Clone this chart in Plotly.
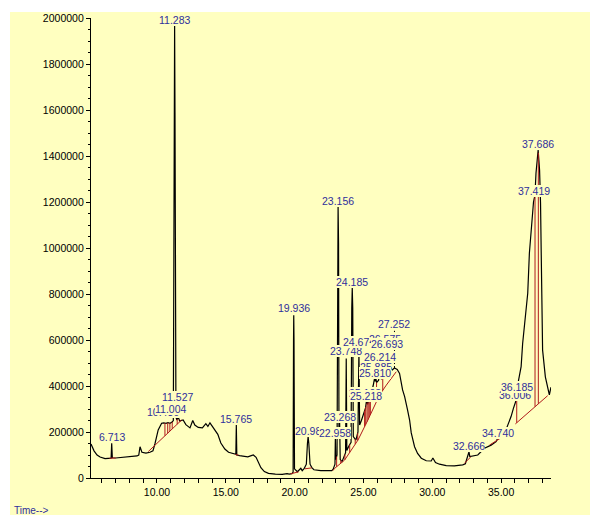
import numpy as np
import plotly.graph_objects as go

# ---------------- data ----------------
time_min = [5.21, 5.29, 5.43, 5.65, 5.87, 6.23, 6.59, 6.67, 6.713, 6.76, 7.0, 7.53, 8.04, 8.55, 8.68, 8.77, 8.91,
            9.2, 9.49, 9.71, 9.86, 10.09, 10.34, 10.5, 10.65, 10.8, 10.95, 11.1, 11.19, 11.21, 11.25, 11.283,
            11.31, 11.36, 11.38, 11.45, 11.527, 11.65, 11.9, 12.1, 12.4, 12.6, 12.75, 13.0, 13.3, 13.55, 13.7,
            13.85, 14.0, 14.2, 14.42, 14.64, 14.93, 15.2, 15.5, 15.73, 15.765, 15.8, 16.0, 16.3, 16.6, 16.85,
            17.0, 17.2, 17.35, 17.55, 17.8, 18.1, 18.6, 19.1, 19.45, 19.6, 19.8, 19.89, 19.92, 19.936, 19.955,
            19.99, 20.2, 20.45, 20.55, 20.7, 20.85, 20.93, 20.98, 21.03, 21.12, 21.25, 21.4, 21.9, 22.5, 22.7,
            22.8, 22.93, 22.958, 22.99, 23.08, 23.12, 23.156, 23.19, 23.22, 23.268, 23.31, 23.45, 23.6, 23.70,
            23.748, 23.79, 23.95, 24.10, 24.15, 24.185, 24.22, 24.26, 24.45, 24.60, 24.67, 24.72, 24.85, 25.0,
            25.15, 25.218, 25.3, 25.5, 25.7, 25.81, 25.86, 25.885, 25.95, 26.1, 26.214, 26.3, 26.5, 26.575,
            26.64, 26.693, 26.75, 27.0, 27.252, 27.45, 27.62, 27.84, 27.99, 28.2, 28.35, 28.47, 28.59, 28.71,
            28.93, 29.2, 29.56, 29.92, 30.04, 30.23, 30.52, 31.01, 31.6, 32.21, 32.4, 32.62, 32.666, 32.72,
            32.9, 33.3, 33.79, 34.27, 34.63, 34.74, 34.87, 35.24, 35.48, 35.72, 35.89, 36.006, 36.10, 36.185,
            36.32, 36.45, 36.56, 36.76, 36.93, 37.05, 37.17, 37.29, 37.35, 37.419, 37.47, 37.53, 37.61, 37.686,
            37.79, 37.86, 37.91, 37.97, 38.01, 38.21, 38.38, 38.5, 38.62]
abundance = [148000, 138000, 118000, 100000, 91000, 84000, 84000, 86000, 151000, 88000, 87000, 89000, 92000,
             96000, 100000, 136000, 112000, 108000, 112000, 118000, 150000, 209000, 238000, 240000, 238000,
             241000, 238000, 243000, 250000, 550000, 1590000, 1970000, 1590000, 550000, 265000, 252000, 268000,
             248000, 252000, 232000, 218000, 250000, 230000, 220000, 218000, 236000, 224000, 240000, 226000,
             212000, 190000, 152000, 126000, 112000, 106000, 103000, 230000, 100000, 97000, 93000, 92000, 97000,
             100000, 90000, 72000, 45000, 28000, 20000, 17000, 16000, 19000, 17000, 19000, 25000, 600000, 708000,
             600000, 40000, 27000, 42000, 32000, 42000, 60000, 150000, 180000, 150000, 60000, 45000, 36000,
             32000, 30000, 32000, 38000, 60000, 175000, 80000, 100000, 1020000, 1180000, 1020000, 200000, 240000,
             80000, 72000, 95000, 110000, 520000, 120000, 140000, 155000, 739000, 826000, 739000, 180000, 165000,
             200000, 555000, 230000, 250000, 280000, 305000, 335000, 320000, 360000, 400000, 435000, 420000,
             440000, 415000, 425000, 490000, 430000, 440000, 470000, 445000, 470000, 450000, 465000, 478000,
             472000, 455000, 383000, 354000, 296000, 252000, 196000, 165000, 136000, 107000, 86000, 75000, 74000,
             87000, 67000, 60000, 54000, 53000, 57000, 62000, 100000, 114000, 93000, 95000, 100000, 129000,
             143000, 158000, 172000, 175000, 194000, 230000, 267000, 303000, 330000, 340000, 400000, 440000,
             484000, 585000, 701000, 803000, 977000, 1078000, 1180000, 1200000, 1220000, 1250000, 1325000,
             1397000, 1426000, 1339000, 1194000, 978000, 760000, 556000, 440000, 383000, 361000, 395000]

# integration baselines (time, abundance) per peak group
baseline_groups = [
    [(6.55, 86000), (7.0, 87000)],
    [(9.37, 115000), (11.79, 252000)],
    [(15.70, 102000), (15.92, 99000)],
    [(19.70, 18000), (20.30, 27000)],
    [(20.75, 40000), (21.25, 44000)],
    [(22.78, 32000), (22.91, 42000), (23.63, 78000), (24.6, 165000), (25.32, 252000), (25.81, 313000),
     (26.17, 361000), (26.66, 404000), (27.38, 462000)],
    [(32.33, 64000), (32.8, 92000)],
    [(34.15, 143000), (34.92, 172000)],
    [(36.03, 235000), (38.38, 358000)],
]
# times of red drop / hatch lines
drop_times = [10.58, 10.78, 10.94, 11.11, 11.47, 11.67,
              23.05, 23.35, 23.65, 24.0, 24.4, 24.58, 25.08, 25.16, 25.26, 25.34, 25.42, 25.5, 25.95, 26.4,
              36.13, 37.46, 37.70]

# peak labels: text and label height (abundance units), drawn in this order
label_texts = ["6.713", "11.283", "10.436", "11.004", "11.527", "15.765", "19.936", "20.98", "22.958",
               "23.268", "23.156", "23.748", "24.185", "24.674", "26.575", "26.693", "27.252", "25.108",
               "25.218", "25.885", "26.214", "25.810", "32.666", "34.740", "36.006", "36.185", "37.419",
               "37.686"]
label_heights = [178000, 1991000, 287000, 300000, 351000, 255000, 740000, 204000, 197000,
                 267000, 1204000, 551000, 853000, 593000, 604000, 581000, 668000, 371000,
                 357000, 483000, 527000, 458000, 140000, 197000, 363000, 394000, 1248000,
                 1452000]
leader_peak = (27.252, 478000, 640000)   # time, apex, label bottom

x_ticks = [10, 15, 20, 25, 30, 35]
x_tick_text = ["10.00", "15.00", "20.00", "25.00", "30.00", "35.00"]

# ---------------- styling ----------------
BG = "#FFFFC0"
BLUE = "#2F2F9C"
RED = "#B01A1A"
FONT = "Liberation Sans, Arial, sans-serif"

# figure is placed by the page 8px from top/left
W, H = 590, 507
ML, MR, MT, MB = 83, 47, 10, 37
PW, PH = W - ML - MR, H - MT - MB

fig = go.Figure()

bx, by = [], []
for grp in baseline_groups:
    for t, v in grp:
        bx.append(t)
        by.append(v)
    bx.append(None)
    by.append(None)

sig_t = np.array(time_min, dtype=float)
sig_v = np.array(abundance, dtype=float)
dx, dy = [], []
for t in drop_times:
    for grp in baseline_groups:
        gt = [p[0] for p in grp]
        gv = [p[1] for p in grp]
        if gt[0] <= t <= gt[-1]:
            b = float(np.interp(t, gt, gv))
            s = float(np.interp(t, sig_t, sig_v))
            dx += [t, t, None]
            dy += [b, s, None]
            break

fig.add_trace(go.Scatter(x=time_min, y=abundance, mode="lines",
                         line=dict(color="black", width=1.2), hoverinfo="skip"))
fig.add_trace(go.Scatter(x=bx, y=by, mode="lines", line=dict(color=RED, width=1),
                         connectgaps=False, hoverinfo="skip"))
fig.add_trace(go.Scatter(x=dx, y=dy, mode="lines", line=dict(color=RED, width=1),
                         connectgaps=False, hoverinfo="skip"))
fig.add_trace(go.Scatter(x=[leader_peak[0], leader_peak[0]], y=[leader_peak[1], leader_peak[2]],
                         mode="lines", line=dict(color="black", width=1, dash="2px,2px"),
                         hoverinfo="skip"))

annotations = []
for txt, h in zip(label_texts, label_heights):
    annotations.append(dict(x=float(txt), y=h, xref="x", yref="y", text=txt, showarrow=False,
                            font=dict(family=FONT, size=10.5, color=BLUE), bgcolor=BG,
                            borderpad=0, borderwidth=0, xanchor="center", yanchor="middle"))

annotations.append(dict(x=(3.5 - ML) / PW, y=(MT + PH - 502) / PH, xref="paper", yref="paper",
                        text="Time-->", showarrow=False, xanchor="left", yanchor="middle",
                        font=dict(family=FONT, size=10, color=BLUE)))

shapes = [
    dict(type="rect", xref="paper", yref="paper", x0=-0.3, x1=1.3,
         y0=(MT + PH - 4) / PH, y1=1.3, fillcolor="white", line=dict(width=0), layer="above"),
    dict(type="rect", xref="paper", yref="paper", x0=-0.3, x1=(2 - ML) / PW, y0=-0.2, y1=1.3,
         fillcolor="white", line=dict(width=0), layer="above"),
    dict(type="rect", xref="paper", yref="paper", x0=(589 - ML) / PW, x1=1.3, y0=-0.2, y1=1.3,
         fillcolor="white", line=dict(width=0), layer="above"),
]

fig.update_layout(
    width=W, height=H, autosize=False,
    margin=dict(l=ML, r=MR, t=MT, b=MB, pad=0),
    paper_bgcolor=BG, plot_bgcolor=BG,
    showlegend=False,
    annotations=annotations,
    shapes=shapes,
    font=dict(family=FONT, size=10.5, color="black"),
)
fig.update_xaxes(range=[5.21, 38.62], tickvals=x_ticks, ticktext=x_tick_text,
                 ticks="outside", ticklen=4, tickwidth=1, tickcolor="black",
                 minor=dict(dtick=1, tick0=0, ticks="outside", ticklen=4, tickcolor="black", tickwidth=1),
                 showline=True, linecolor="black", linewidth=1, showgrid=False, zeroline=False,
                 automargin=False, tickfont=dict(family=FONT, size=10.5, color="black"))
fig.update_yaxes(range=[0, 2000000], dtick=200000, tick0=0, tickformat="d",
                 ticks="outside", ticklen=4, tickwidth=1, tickcolor="black",
                 minor=dict(dtick=50000, tick0=0, ticks="outside", ticklen=2, tickcolor="black", tickwidth=1),
                 showline=True, linecolor="black", linewidth=1.3, showgrid=False, zeroline=False,
                 automargin=False, tickfont=dict(family=FONT, size=10.5, color="black"))

fig.write_html("out.html")
